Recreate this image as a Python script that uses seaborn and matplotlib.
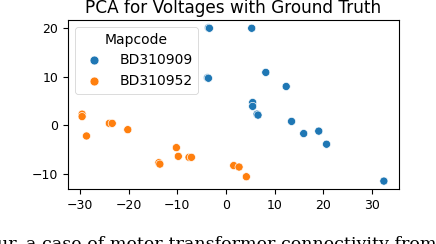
import matplotlib
matplotlib.use("Agg")
import matplotlib.pyplot as plt
import pandas as pd
import seaborn as sns

# PCA components
pc1_909 = [-3.6, -3.4, 5.3, -3.8, -3.6, 8.2, 12.4, 5.5, 5.5, 6.4, 6.6, 13.5, 16.0, 19.1, 20.7, 32.5]
pc2_909 = [20.1, 20.0, 20.0, 9.8, 9.7, 10.9, 8.0, 4.7, 3.9, 2.3, 2.1, 0.8, -1.7, -1.2, -3.9, -11.5]

pc1_952 = [-29.6, -29.6, -28.7, -24.0, -23.4, -20.2, -13.8, -13.6, -10.2, -9.8, -7.6, -7.1, 1.6, 2.7, 4.2]
pc2_952 = [2.3, 1.8, -2.2, 0.4, 0.4, -0.9, -7.7, -8.0, -4.6, -6.4, -6.6, -6.6, -8.3, -8.6, -10.6]

mapcodes = ["BD310909", "BD310952"]


def build_frame() -> pd.DataFrame:
    df_a = pd.DataFrame({"pc1": pc1_909, "pc2": pc2_909, "Mapcode": mapcodes[0]})
    df_b = pd.DataFrame({"pc1": pc1_952, "pc2": pc2_952, "Mapcode": mapcodes[1]})
    return pd.concat([df_a, df_b], ignore_index=True)


def plot(df: pd.DataFrame) -> None:
    fig = plt.figure(figsize=(4.36, 2.44), dpi=100)
    ax = fig.add_axes([0.156, 0.224, 0.759, 0.694])

    sns.scatterplot(data=df, x="pc1", y="pc2", hue="Mapcode", hue_order=mapcodes,
                    s=34, ax=ax)
    ax.set_xlim(-32.5, 35.6)
    ax.set_ylim(-13.2, 21.7)
    ax.set_xticks([-30, -20, -10, 0, 10, 20, 30])
    ax.set_yticks([-10, 0, 10, 20])
    ax.set_xlabel("")
    ax.set_ylabel("")
    ax.tick_params(axis="both", labelsize=9, length=3.5)
    ax.set_title("PCA for Voltages with Ground Truth", fontsize=12.2, pad=5)

    leg = ax.legend(title="Mapcode", loc="upper left", fontsize=10,
                    title_fontsize=10, markerscale=1.1)
    leg.get_frame().set_linewidth(0.6)

    # caption of the page, cut at the bottom edge
    fig.text(-0.008, -0.022, "ur, a case of meter-transformer connectivity from",
             fontsize=12.6, family="DejaVu Serif", va="baseline")

    fig.savefig("out.png", dpi=100)


if __name__ == "__main__":
    plot(build_frame())
